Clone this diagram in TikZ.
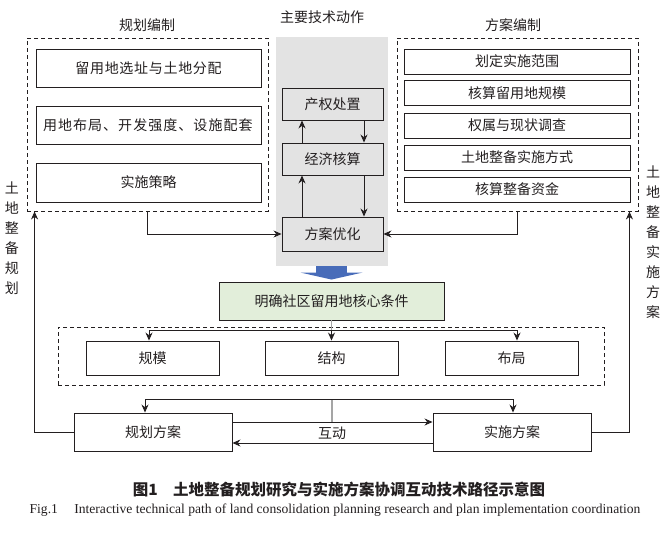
\documentclass[tikz,border=0pt]{standalone}
\usepackage{fontspec}
\setmainfont{Noto Sans CJK SC}
\newfontfamily\en{Liberation Serif}
\newfontfamily\cjkspa[LetterSpace=5]{Noto Sans CJK SC}
\newfontfamily\cjkspb[LetterSpace=7.5]{Noto Sans CJK SC}
\usetikzlibrary{arrows.meta,calc}
\definecolor{txt}{RGB}{35,31,32}
\definecolor{grayfill}{RGB}{227,227,227}
\definecolor{greenfill}{RGB}{226,238,218}
\definecolor{bluearr}{RGB}{72,108,185}
\definecolor{grayline}{RGB}{165,165,165}
\begin{document}
\begin{tikzpicture}[x=1pt,y=-1pt,
  every node/.style={text=txt, font=\fontsize{14}{16}\selectfont, inner sep=0pt},
  box/.style={draw=txt, line width=0.9pt},
  dbox/.style={draw=txt, line width=0.9pt, dash pattern=on 4pt off 3pt},
  arr/.style={draw=txt, line width=0.9pt, -{Stealth[length=8pt,width=7pt]}},
  ln/.style={draw=txt, line width=0.9pt},
  vlab/.style={align=center, font=\fontsize{14}{20}\selectfont},
]
\useasboundingbox (0,0) rectangle (669,533);

% gray band
\node[fill=grayfill, minimum width=112pt, minimum height=229pt] (G) at (332,151.5) {};

% titles
\node (Lt) at (147,25) {规划编制};
\node (Rt) at (513,25) {方案编制};
\node (Ct) at (322,17) {主要技术动作};

% left group
\node[dbox, minimum width=241pt, minimum height=173pt] (L) at (147.5,124.5) {};
\node[box, minimum width=225pt, minimum height=38pt] (l1) at (148.5,68) {\cjkspa 留用地选址与土地分配};
\node[box, minimum width=225pt, minimum height=38pt, text width=211pt, align=left] (l2) at (148.5,125) {\cjkspb 用地布局、开发强度、设施配套};
\node[box, minimum width=225pt, minimum height=39pt] (l3) at (148.5,182.5) {实施策略};

% right group
\node[dbox, minimum width=241pt, minimum height=173pt] (R) at (517.5,124.5) {};
\node[box, minimum width=226pt, minimum height=25pt] (r1) at (517,61.5) {划定实施范围};
\node[box, minimum width=226pt, minimum height=25pt] (r2) at (517,93) {核算留用地规模};
\node[box, minimum width=226pt, minimum height=25pt] (r3) at (517,125.5) {权属与现状调查};
\node[box, minimum width=226pt, minimum height=25pt] (r4) at (517,157.5) {土地整备实施方式};
\node[box, minimum width=226pt, minimum height=25pt] (r5) at (517,189.5) {核算整备资金};

% center
\node[box, minimum width=101pt, minimum height=32pt] (c1) at (332.5,104) {产权处置};
\node[box, minimum width=101pt, minimum height=32pt] (c2) at (332.5,159) {经济核算};
\node[box, minimum width=101pt, minimum height=34pt] (c3) at (332.5,234) {方案优化};
\coordinate (ux) at (302,0);
\coordinate (dx) at (364,0);
\draw[arr] (c2.north -| ux) -- (c1.south -| ux);
\draw[arr] (c1.south -| dx) -- (c2.north -| dx);
\draw[arr] (c3.north -| ux) -- (c2.south -| ux);
\draw[arr] (c2.south -| dx) -- (c3.north -| dx);
\draw[arr] (L.south) |- (c3.west);
\draw[arr] (R.south) |- (c3.east);

% green box and blue arrow
\node[box, fill=greenfill, minimum width=225pt, minimum height=38pt] (gb) at (331.5,301) {明确社区留用地核心条件};
\draw[draw=bluearr, line width=31pt, -{Triangle[length=7pt,width=62pt,line width=0pt]}, fill=bluearr] (G.south -| gb.north) -- ($(gb.north)+(0,-2)$);

% middle dashed group
\node[dbox, minimum width=546pt, minimum height=58pt] (M) at (331,356) {};
\node[box, minimum width=133pt, minimum height=34pt] (k1) at (152.5,358) {规模};
\node[box, minimum width=133pt, minimum height=34pt] (k2) at (331.5,358) {结构};
\node[box, minimum width=133pt, minimum height=34pt] (k3) at (511.5,358) {布局};
\coordinate (h1) at (149,330);
\coordinate (h3) at (517,330);
\draw[draw=grayline, line width=1.2pt] (gb.south) -- (gb.south |- h1);
\draw[ln] (h1) -- (h3);
\draw[arr] (h1) -- (k1.north -| h1);
\draw[arr] (h3) -- (k3.north -| h3);
\draw[arr] (gb.south |- h1) -- (k2.north -| gb.south);

% bottom
\node[box, minimum width=158pt, minimum height=38pt] (b1) at (153,432) {规划方案};
\node[box, minimum width=158pt, minimum height=38pt] (b2) at (512,432) {实施方案};
\coordinate (t1) at (145,399);
\coordinate (t2) at (513,399);
\coordinate (tm) at (332,399);
\coordinate (tm2) at (332,422);
\draw[draw=grayline, line width=1.2pt] (tm) -- (tm2);
\draw[ln] (t1) -- (t2);
\draw[arr] (t1) -- (b1.north -| t1);
\draw[arr] (t2) -- (b2.north -| t2);
\draw[arr] ($(b1.east)+(0,-10)$) -- ($(b2.west)+(0,-10)$);
\draw[arr] ($(b2.west)+(0,11)$) -- ($(b1.east)+(0,11)$);
\node (hd) at (332,433) {互动};

% feedback loops
\draw[arr] (b1.west) -| ($(L.south west)+(8,0)$);
\draw[arr] (b2.east) -| ($(R.south east)+(-9,0)$);
\node[vlab] (vl) at (12,238) {土\\地\\整\\备\\规\\划};
\node[vlab] (vr) at (653,242.5) {土\\地\\整\\备\\实\\施\\方\\案};

% captions
\node[font=\bfseries\fontsize{15.5}{18}\selectfont] (cap1) at (339,490) {图1\hspace{1em}土地整备规划研究与实施方案协调互动技术路径示意图};
\node[font=\en\fontsize{13.6}{15}\selectfont] (cap2) at (335,510) {Fig.1\hspace{1.2em}Interactive technical path of land consolidation planning research and plan implementation coordination};
\end{tikzpicture}
\end{document}
